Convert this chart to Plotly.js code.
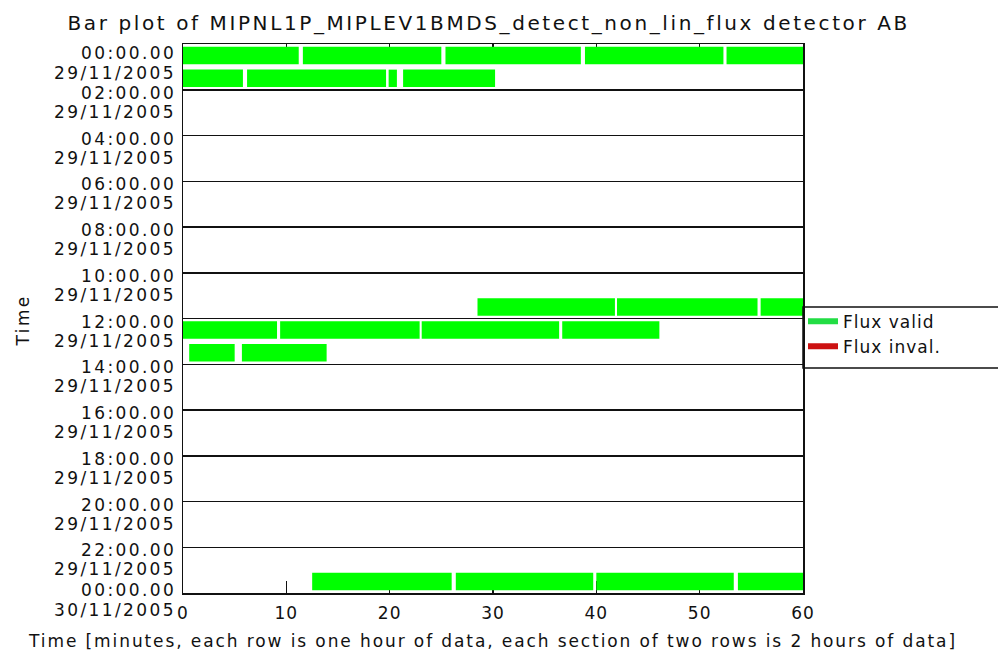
<!DOCTYPE html>
<html>
<head>
<meta charset="utf-8">
<script src="https://cdn.plot.ly/plotly-3.0.1.min.js"></script>
<style>
html,body{margin:0;padding:0;background:#fff;}
#chart{width:998px;height:659px;}
.gtitle{letter-spacing:2.6px;}
.annotation-text{letter-spacing:2.4px;}
.xtick text{letter-spacing:1px;}
.xtitle{letter-spacing:1.9px;}
.legendtext{letter-spacing:1px;}
</style>
</head>
<body>
<div id="chart"></div>
<script>
// ---- data (minutes within each hourly row) ----
const validRow   = [0,0,0,0,0, 1,1,1,1, 11,11,11, 12,12,12,12, 13,13, 23,23,23,23];
const validStart = [0,11.6,25.4,38.9,52.6, 0,6.2,19.9,21.3, 28.5,42.0,55.9, 0,9.4,23.1,36.7, 0.6,5.7, 12.5,26.4,40.0,53.7];
const validEnd   = [11.2,25.0,38.5,52.3,60, 5.8,19.65,20.7,30.2, 41.8,55.6,60, 9.1,22.9,36.4,46.1, 5.0,13.9, 26.0,39.7,53.3,60];
const invalidRow = [];
const invalidStart = [];
const invalidEnd = [];

const sectionHours = [0,2,4,6,8,10,12,14,16,18,20,22,24];
const hourLabels = ["00:00.00","02:00.00","04:00.00","06:00.00","08:00.00","10:00.00","12:00.00","14:00.00","16:00.00","18:00.00","20:00.00","22:00.00","00:00.00"];
const dateLabels = ["29/11/2005","29/11/2005","29/11/2005","29/11/2005","29/11/2005","29/11/2005","29/11/2005","29/11/2005","29/11/2005","29/11/2005","29/11/2005","29/11/2005","30/11/2005"];
const minuteTicks = [0,10,20,30,40,50,60];

const GREEN = '#00ff00';
const RED = '#e00000';
const FONT = 'DejaVu Sans, Liberation Sans, sans-serif';

// y tick labels (two lines each), placed against the axis scale;
// the end labels are nudged inward as in the original plot
const last = sectionHours.length - 1;
const annotations = [];
sectionHours.forEach((h, i) => {
  const tShift = i === 0 ? -8.5 : (i === last ? 3 : -3);
  const dShift = i === 0 ? -28.5 : (i === last ? -17 : -22);
  annotations.push({xref: 'paper', yref: 'y', x: 0, y: h, text: hourLabels[i],
    xanchor: 'right', yanchor: 'middle', xshift: -6, yshift: tShift, showarrow: false,
    font: {family: FONT, size: 17, color: '#111'}, borderpad: 0});
  annotations.push({xref: 'paper', yref: 'y', x: 0, y: h, text: dateLabels[i],
    xanchor: 'right', yanchor: 'middle', xshift: -6, yshift: dShift, showarrow: false,
    font: {family: FONT, size: 17, color: '#111'}, borderpad: 0});
});
annotations.push({xref: 'paper', yref: 'paper', x: 0, y: 0.5, xshift: -161, yshift: -2,
  text: 'Time', textangle: -90, showarrow: false, xanchor: 'center', yanchor: 'middle',
  font: {family: FONT, size: 17, color: '#111'}});

const traces = [
  {
    type: 'bar', orientation: 'h',
    y: validRow.map(r => r + 0.5),
    base: validStart,
    x: validEnd.map((e, i) => e - validStart[i]),
    width: 0.76,
    marker: {color: GREEN, line: {width: 0}},
    showlegend: false, hoverinfo: 'skip'
  },
  {
    type: 'bar', orientation: 'h',
    y: invalidRow.map(r => r + 0.5),
    base: invalidStart,
    x: invalidEnd.map((e, i) => e - invalidStart[i]),
    width: 0.76,
    marker: {color: RED, line: {width: 0}},
    showlegend: false, hoverinfo: 'skip'
  },
  {type: 'scatter', mode: 'lines', x: [null], y: [null], name: 'Flux valid',
   line: {color: '#22dd44', width: 6}},
  {type: 'scatter', mode: 'lines', x: [null], y: [null], name: 'Flux inval.',
   line: {color: '#cc1111', width: 6}},
  {type: 'scatter', mode: 'lines', x: [null], y: [null], xaxis: 'x2', showlegend: false, hoverinfo: 'skip'}
];

const layout = {
  width: 998, height: 659,
  margin: {l: 183, r: 195, t: 43.5, b: 66, pad: 0},
  paper_bgcolor: '#ffffff', plot_bgcolor: '#ffffff',
  font: {family: FONT, size: 17, color: '#111'},
  barmode: 'overlay',
  title: {text: 'Bar plot of MIPNL1P_MIPLEV1BMDS_detect_non_lin_flux detector AB',
          font: {family: FONT, size: 20, color: '#111'},
          x: 0.493, xanchor: 'center', xref: 'paper', y: 0.965, yanchor: 'middle'},
  xaxis: {
    range: [0, 60], tickvals: minuteTicks, ticktext: minuteTicks.map(String),
    ticks: 'inside', ticklen: 12, tickwidth: 1.5, tickcolor: '#111',
    ticklabelstandoff: 4,
    showline: true, linecolor: '#111', linewidth: 1.5, mirror: false,
    showgrid: false, zeroline: false, layer: 'below traces',
    tickfont: {family: FONT, size: 17},
    title: {text: 'Time [minutes, each row is one hour of data, each section of two rows is 2 hours of data]',
            font: {family: FONT, size: 17}, standoff: 13}
  },
  xaxis2: {
    overlaying: 'x', matches: 'x', side: 'top', range: [0, 60], tickvals: minuteTicks,
    showticklabels: false, ticks: 'inside', ticklen: 3, tickwidth: 1.5, tickcolor: '#111',
    showline: true, linecolor: '#111', linewidth: 1.5, showgrid: false, zeroline: false,
    layer: 'below traces'
  },
  yaxis: {
    range: [24, 0], tickvals: sectionHours, showticklabels: false,
    ticks: 'inside', ticklen: 7, tickwidth: 1.5, tickcolor: '#111',
    showline: true, linecolor: '#111', linewidth: 1.5, mirror: true,
    showgrid: true, gridcolor: '#111', gridwidth: 1.5, zeroline: false,
    layer: 'below traces'
  },
  legend: {
    x: 1.0, xanchor: 'left', y: 0.527, yanchor: 'top',
    bgcolor: 'rgba(0,0,0,0)', borderwidth: 0,
    font: {family: FONT, size: 17, color: '#111'},
    itemwidth: 30, tracegroupgap: 0
  },
  annotations: annotations,
  shapes: [
    {type: 'rect', xref: 'paper', yref: 'paper', x0: 1.0, x1: 1.4, y0: 0.41, y1: 0.521,
     line: {color: '#111', width: 1.5}, fillcolor: 'rgba(0,0,0,0)'}
  ]
};

Plotly.newPlot('chart', traces, layout, {displayModeBar: false, staticPlot: true});
</script>
</body>
</html>
